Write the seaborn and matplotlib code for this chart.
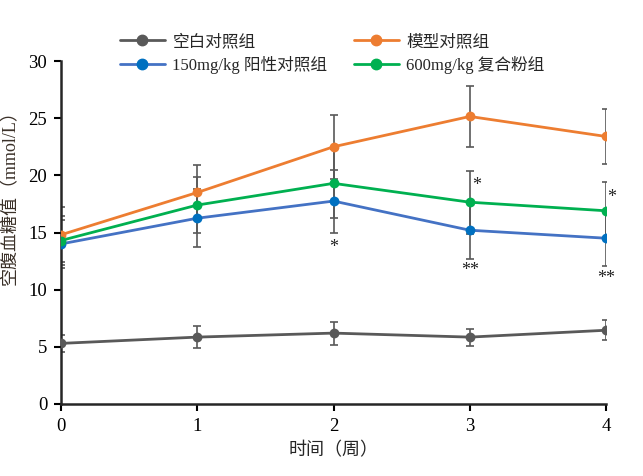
import pandas as pd
import matplotlib
matplotlib.use('Agg')
import matplotlib.pyplot as plt
import seaborn as sns

# Data
weeks = [0, 1, 2, 3, 4]
groups = ['空白对照组', '模型对照组', '150mg/kg 阳性对照组', '600mg/kg 复合粉组']
blank = [5.3, 5.85, 6.2, 5.85, 6.45]
blank_sd = [0.75, 0.95, 1.0, 0.75, 0.88]
model = [14.8, 18.5, 22.5, 25.15, 23.4]
model_sd = [2.4, 2.4, 2.8, 2.65, 2.4]
positive = [14.0, 16.25, 17.75, 15.2, 14.5]
positive_sd = [2.1, 2.55, 2.75, 2.5, 2.4]
compound = [14.3, 17.4, 19.3, 17.65, 16.9]
compound_sd = [2.1, 2.45, 3.0, 2.75, 2.5]

# significance marks: (x, y, text)
star_x = [2, 3.05, 3, 4.04, 4]
star_y = [13.7, 19.1, 11.7, 18.1, 10.95]
star_txt = ['*', '*', '**', '*', '**']

colors = ['#595959', '#ED7D31', '#4472C4', '#00B050']
marker_colors = ['#595959', '#ED7D31', '#0070C0', '#00B050']

sns.set_style('ticks')
plt.rcParams['font.family'] = ['Liberation Serif', 'Noto Sans CJK SC']
plt.rcParams['axes.unicode_minus'] = False

means = [blank, model, positive, compound]
sds = [blank_sd, model_sd, positive_sd, compound_sd]
df = pd.DataFrame({
    'week': weeks * 4,
    'glucose': blank + model + positive + compound,
    'group': [g for g in groups for _ in weeks],
})

fig = plt.figure(figsize=(6.43, 4.76), dpi=100)
ax = fig.add_axes([0.0949, 0.1513, 0.8476, 0.7205])

# error bars first, in grey
for m, s in zip(means, sds):
    ax.errorbar(weeks, m, yerr=s, fmt='none', ecolor='#595959',
                elinewidth=1.2, capsize=3, capthick=1.2, zorder=1)

sns.lineplot(data=df, x='week', y='glucose', hue='group', hue_order=groups,
             palette=colors, linewidth=2, ax=ax, legend=False, zorder=2)
for m, c in zip(means, marker_colors):
    ax.scatter(weeks, m, s=50, color=c, zorder=3, linewidths=0)

for x, y, t in zip(star_x, star_y, star_txt):
    ax.text(x, y, t, ha='center', va='center', fontsize=13, color='#222222')

ax.set_xlim(0, 4)
ax.set_ylim(0, 30)
ax.set_xticks(weeks)
ax.set_yticks([0, 5, 10, 15, 20, 25, 30])
ax.tick_params(axis='both', labelsize=13.5, length=5, width=1.5, direction='out',
               colors='black', pad=5)
for sp in ['top', 'right']:
    ax.spines[sp].set_visible(False)
for sp in ['left', 'bottom']:
    ax.spines[sp].set_linewidth(1.8)
ax.set_xlabel('时间（周）', fontsize=13, labelpad=5)
ax.set_ylabel('空腹血糖值（mmol/L）', fontsize=13, color='#3a3028')
ax.yaxis.set_label_coords(-0.078, 0.615)

handles = [plt.Line2D([], [], color=c, marker='o', markerfacecolor=mc,
                      markeredgecolor=mc, markersize=7.5, linewidth=2)
           for c, mc in zip(colors, marker_colors)]
order = [0, 2, 1, 3]  # legend fills by column; keep reference row order
fig.legend([handles[i] for i in order], [groups[i] for i in order],
           loc='upper left', bbox_to_anchor=(0.163, 0.96),
           ncol=2, frameon=False, fontsize=12, handlelength=2.7,
           columnspacing=1.6, handletextpad=0.45, labelspacing=0.35)

fig.savefig('out.png', dpi=100)
